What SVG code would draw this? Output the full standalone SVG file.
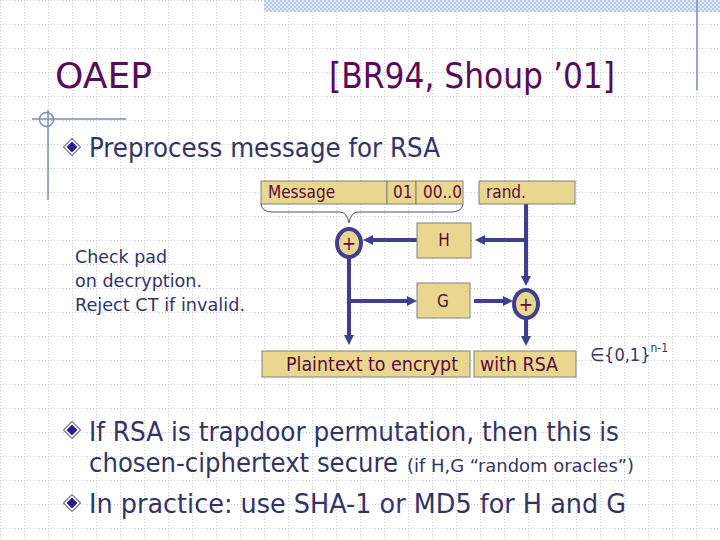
<svg xmlns="http://www.w3.org/2000/svg" width="720" height="540" viewBox="0 0 720 540">
  <defs>
    <pattern id="grid" patternUnits="userSpaceOnUse" x="0" y="0" width="24" height="24">
      <path d="M0.5,0 V24 M0,0.5 H24" stroke="#c3cbda" stroke-width="1" stroke-dasharray="1 2" fill="none"/>
    </pattern>
    <pattern id="check" patternUnits="userSpaceOnUse" x="0" y="0" width="4" height="4">
      <rect width="4" height="4" fill="#e3eaf7"/>
      <rect width="2" height="2" fill="#b9c9e8"/>
      <rect x="2" y="2" width="2" height="2" fill="#b9c9e8"/>
    </pattern>
    <marker id="arrow" markerUnits="userSpaceOnUse" markerWidth="10" markerHeight="10" refX="3" refY="5" orient="auto">
      <path d="M0,0 L10,5 L0,10 z" fill="#3f3f8f"/>
    </marker>
    <g id="bullet">
      <path d="M0,-8.5 L8.5,0 L0,8.5 L-8.5,0 z" fill="#ffffff" stroke="#222244" stroke-width="1"/>
      <path d="M0,-5.5 L5.5,0 L0,5.5 L-5.5,0 z" fill="#2e1a8e"/>
    </g>
    <style>
      .title { font-family: "DejaVu Sans Condensed", "DejaVu Sans", sans-serif; font-size: 36px; fill: #5a0a5a; }
      .body { font-family: "DejaVu Sans Condensed", "DejaVu Sans", sans-serif; font-size: 26px; fill: #333366; }
      .small { font-family: "DejaVu Sans Condensed", "DejaVu Sans", sans-serif; font-size: 17px; fill: #333366; }
      .note { font-family: "DejaVu Sans Condensed", "DejaVu Sans", sans-serif; font-size: 18px; fill: #333366; }
      .box { fill: #ead78f; stroke: #808080; stroke-width: 1; }
      .lbl { font-family: "DejaVu Sans Condensed", "DejaVu Sans", sans-serif; font-size: 17px; fill: #5a0a3a; }
      .big { font-family: "DejaVu Sans Condensed", "DejaVu Sans", sans-serif; font-size: 19px; fill: #5a0a3a; }
      .wire { stroke: #3f3f8f; stroke-width: 4; fill: none; }
      .xor { fill: #ead78f; stroke: #3f3f8f; stroke-width: 4; }
      .deco { stroke: #7d8cba; stroke-width: 1.5; fill: none; }
    </style>
  </defs>

  <!-- background -->
  <rect width="720" height="540" fill="#ffffff"/>
  <rect x="0" y="0" width="720" height="540" fill="url(#grid)"/>
  <rect x="264" y="0" width="456" height="12" fill="url(#check)"/>
  <line class="deco" x1="697" y1="0" x2="697" y2="90"/>
  <line class="deco" x1="32" y1="119" x2="126" y2="119"/>
  <line class="deco" x1="48" y1="110" x2="48" y2="200"/>
  <circle class="deco" cx="46.5" cy="119.5" r="7" stroke-width="1"/>

  <!-- title -->
  <text class="title" x="55" y="88" textLength="97" lengthAdjust="spacingAndGlyphs">OAEP</text>
  <text class="title" x="329" y="88" textLength="286" lengthAdjust="spacingAndGlyphs">[BR94, Shoup ’01]</text>

  <!-- bullets -->
  <use href="#bullet" x="72" y="147"/>
  <text class="body" x="89" y="157" textLength="351" lengthAdjust="spacingAndGlyphs">Preprocess message for RSA</text>

  <g id="check-note">
    <text class="note" x="75" y="263" textLength="92" lengthAdjust="spacingAndGlyphs">Check pad</text>
    <text class="note" x="75" y="287" textLength="127" lengthAdjust="spacingAndGlyphs">on decryption.</text>
    <text class="note" x="75" y="311" textLength="170" lengthAdjust="spacingAndGlyphs">Reject CT if invalid.</text>
  </g>

  <!-- connectors -->
  <g id="connectors">
    <path d="M261,204 Q262,212 272,212 L340,212 Q347,212 349,223 Q351,212 358,212 L452,212 Q462,212 463,204" stroke="#555555" stroke-width="1" fill="none"/>
    <line class="wire" x1="526" y1="204" x2="526" y2="279" marker-end="url(#arrow)"/>
    <line class="wire" x1="526" y1="240" x2="482" y2="240" marker-end="url(#arrow)"/>
    <line class="wire" x1="417" y1="240" x2="370" y2="240" marker-end="url(#arrow)"/>
    <line class="wire" x1="349" y1="257" x2="349" y2="338" marker-end="url(#arrow)"/>
    <line class="wire" x1="349" y1="301" x2="410" y2="301" marker-end="url(#arrow)"/>
    <line class="wire" x1="474" y1="301" x2="506" y2="301" marker-end="url(#arrow)"/>
    <line class="wire" x1="526" y1="318" x2="526" y2="339" marker-end="url(#arrow)"/>
  </g>

  <!-- nodes -->
  <g id="message">
    <rect class="box" x="261" y="181" width="126" height="23"/>
    <text class="lbl" x="268" y="198">Message</text>
  </g>
  <g id="pad01">
    <rect class="box" x="387" y="181" width="29" height="23"/>
    <text class="lbl" x="393" y="198">01</text>
  </g>
  <g id="pad00">
    <rect class="box" x="416" y="181" width="47" height="23"/>
    <text class="lbl" x="423" y="198">00..0</text>
  </g>
  <g id="rand">
    <rect class="box" x="479" y="181" width="96" height="23"/>
    <text class="lbl" x="486" y="198">rand.</text>
  </g>
  <g id="H">
    <rect class="box" x="417" y="223" width="54" height="35"/>
    <text class="lbl" x="444" y="246" text-anchor="middle">H</text>
  </g>
  <g id="G">
    <rect class="box" x="417" y="283" width="53" height="35"/>
    <text class="lbl" x="443" y="307" text-anchor="middle">G</text>
  </g>
  <g id="xor1">
    <ellipse class="xor" cx="349" cy="243" rx="12" ry="14"/>
    <text class="big" x="349" y="250" text-anchor="middle">+</text>
  </g>
  <g id="xor2">
    <ellipse class="xor" cx="526" cy="304" rx="12" ry="14"/>
    <text class="big" x="526" y="311" text-anchor="middle">+</text>
  </g>
  <g id="plaintext">
    <rect class="box" x="262" y="351" width="208" height="26"/>
    <text class="big" x="286" y="371" textLength="172" lengthAdjust="spacingAndGlyphs">Plaintext to encrypt</text>
  </g>
  <g id="withrsa">
    <rect class="box" x="474" y="351" width="102" height="26"/>
    <text class="big" x="480" y="371" textLength="78" lengthAdjust="spacingAndGlyphs">with RSA</text>
  </g>
  <g id="domain">
    <text class="note" x="590" y="361">∈{0,1}<tspan font-size="12" dy="-9">n-1</tspan></text>
  </g>

  <use href="#bullet" x="72" y="430"/>
  <text class="body" x="89" y="441" textLength="530" lengthAdjust="spacingAndGlyphs">If RSA is trapdoor permutation, then this is</text>
  <text class="body" x="89" y="472" textLength="309" lengthAdjust="spacingAndGlyphs">chosen-ciphertext secure</text>
  <text class="small" x="407" y="472" textLength="227" lengthAdjust="spacingAndGlyphs">(if H,G  “random oracles”)</text>
  <use href="#bullet" x="72" y="503"/>
  <text class="body" x="89" y="513" textLength="537" lengthAdjust="spacingAndGlyphs">In practice:  use SHA-1 or MD5 for H and G</text>
</svg>
